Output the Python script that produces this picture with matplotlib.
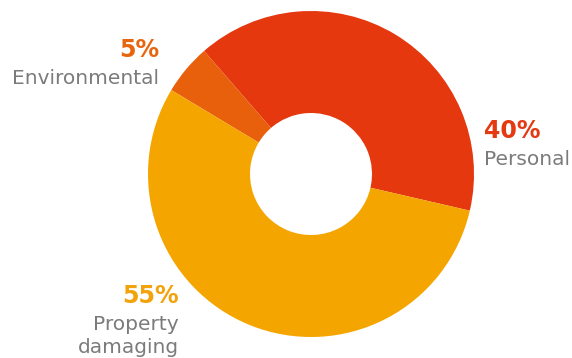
import matplotlib.pyplot as plt

categories = ["Personal", "Environmental", "Property\ndamaging"]
shares = [40, 5, 55]
pct_labels = ["40%", "5%", "55%"]
colors = ["#E5380F", "#E85F0C", "#F5A500"]
text_colors = ["#E53912", "#E8650F", "#F2A20A"]

W, H = 572, 358
fig = plt.figure(figsize=(W / 100, H / 100), dpi=100)
ax = fig.add_axes([0, 0, 1, 1])

ax.pie(shares, colors=colors, startangle=-13, counterclock=True,
       center=(311, H - 174), radius=163,
       wedgeprops=dict(width=102, edgecolor="none"))
ax.set_xlim(0, W)
ax.set_ylim(0, H)
ax.set_aspect("equal")
ax.axis("off")

font = "DejaVu Sans"
gray = "#7b7b7b"

# x, baseline of the percent line, alignment
spots = [(484, 138, "left"), (159, 57, "right"), (179, 303, "right")]
for cat, pct, tc, (x, y, ha) in zip(categories, pct_labels, text_colors, spots):
    ax.text(x, H - y, pct, color=tc, fontsize=17, fontweight="bold",
            family=font, ha=ha, va="baseline")
    for i, line in enumerate(cat.split("\n")):
        ax.text(x, H - y - 27 - 23 * i, line, color=gray, fontsize=14.5,
                family=font, ha=ha, va="baseline")

fig.savefig("out.png", dpi=100)
